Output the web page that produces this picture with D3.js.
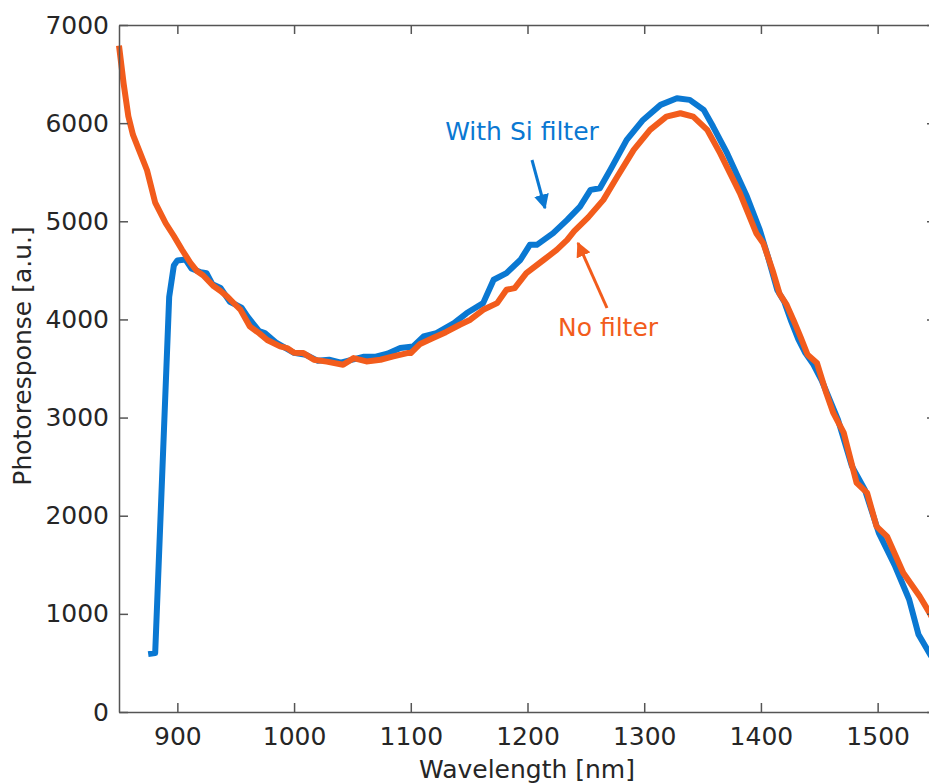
<!DOCTYPE html>
<html>
<head>
<meta charset="utf-8">
<script src="https://cdn.jsdelivr.net/npm/d3@7"></script>
<style>
  body { margin: 0; background: #fff; }
  svg { display: block; font-family: "DejaVu Sans", sans-serif; }
</style>
</head>
<body>
<svg id="chart"></svg>
<script>
// wavelength [nm], photoresponse [a.u.]
const noFilter = [
  [850, 6790], [854, 6400], [858, 6070], [862, 5880], [867, 5730], [874, 5520],
  [881, 5190], [890, 4980], [897, 4850], [904, 4710], [911, 4580], [917, 4490],
  [922, 4450], [931, 4340], [937, 4290], [943, 4230], [948, 4170], [954, 4100],
  [962, 3930], [970, 3860], [977, 3790], [988, 3725], [994, 3708], [1000, 3660],
  [1008, 3657], [1017, 3590], [1028, 3570], [1042, 3538], [1051, 3606], [1062, 3572],
  [1074, 3589], [1085, 3623], [1097, 3657], [1100, 3657], [1108, 3750], [1119, 3810],
  [1130, 3870], [1142, 3946], [1151, 3997], [1162, 4098], [1174, 4166], [1182, 4302],
  [1189, 4319], [1199, 4472], [1214, 4608], [1225, 4709], [1234, 4811], [1240, 4900],
  [1252, 5040], [1265, 5218], [1277, 5456], [1291, 5727], [1305, 5931], [1319, 6067],
  [1331, 6101], [1342, 6067], [1354, 5931], [1365, 5694], [1382, 5287], [1396, 4879],
  [1402, 4777], [1410, 4500], [1416, 4260], [1422, 4150], [1428, 3990], [1434, 3820],
  [1440, 3640], [1448, 3556], [1456, 3250], [1462, 3047], [1471, 2843], [1482, 2334],
  [1491, 2232], [1499, 1892], [1508, 1790], [1522, 1417], [1536, 1179], [1545, 1000],
  [1550, 880]
];

const siFilter = [
  [875, 590], [881, 600], [893, 4230], [897, 4550], [900, 4600], [907, 4610],
  [912, 4520], [920, 4480], [925, 4470], [930, 4360], [937, 4320], [945, 4180],
  [955, 4120], [960, 4030], [970, 3880], [975, 3860], [985, 3760], [1000, 3660],
  [1010, 3640], [1020, 3580], [1030, 3590], [1040, 3560], [1050, 3590], [1060, 3620],
  [1070, 3620], [1080, 3650], [1091, 3708], [1102, 3725], [1111, 3826], [1122, 3861],
  [1137, 3963], [1148, 4065], [1162, 4166], [1171, 4404], [1182, 4472], [1194, 4608],
  [1202, 4760], [1208, 4760], [1222, 4879], [1234, 5015], [1245, 5150], [1254, 5320],
  [1262, 5337], [1271, 5524], [1285, 5829], [1299, 6033], [1314, 6186], [1328, 6254],
  [1339, 6237], [1351, 6135], [1359, 5965], [1371, 5694], [1388, 5252], [1399, 4913],
  [1406, 4640], [1414, 4300], [1420, 4180], [1426, 3980], [1432, 3800], [1438, 3660],
  [1445, 3540], [1452, 3380], [1466, 2980], [1478, 2503], [1489, 2266], [1501, 1825],
  [1515, 1485], [1527, 1146], [1535, 790], [1545, 585], [1550, 500]
];

const xTicks = [900, 1000, 1100, 1200, 1300, 1400, 1500];
const yTicks = [0, 1000, 2000, 3000, 4000, 5000, 6000, 7000];

const width = 929, height = 783;
const margin = {top: 25, right: -7, bottom: 71, left: 119};
const axisColor = "#555";
const textColor = "#262626";
const blue = "#0a78d2";
const orange = "#f25c1c";

const svg = d3.select("#chart")
  .attr("width", width)
  .attr("height", height);

const x = d3.scaleLinear()
  .domain([850, 1550])
  .range([margin.left, width - margin.right]);

const y = d3.scaleLinear()
  .domain([0, 7000])
  .range([height - margin.bottom, margin.top]);

// lines first, axes on top
const line = d3.line()
  .x(d => x(d[0]))
  .y(d => y(d[1]));

svg.append("path")
  .datum(siFilter)
  .attr("fill", "none")
  .attr("stroke", blue)
  .attr("stroke-width", 6)
  .attr("stroke-linejoin", "round")
  .attr("d", line);

svg.append("path")
  .datum(noFilter)
  .attr("fill", "none")
  .attr("stroke", orange)
  .attr("stroke-width", 6)
  .attr("stroke-linejoin", "round")
  .attr("d", line);

// axes, matlab style box with inward ticks
const tickLen = 9;
const fmt = d3.format("d");
const bottomAxis = svg.append("g")
  .attr("transform", `translate(0, ${y(0)})`)
  .call(d3.axisBottom(x).tickValues(xTicks).tickFormat(fmt).tickSizeInner(-tickLen).tickSizeOuter(0).tickPadding(15));
const topAxis = svg.append("g")
  .attr("transform", `translate(0, ${y(7000)})`)
  .call(d3.axisTop(x).tickValues(xTicks).tickSizeInner(-tickLen).tickSizeOuter(0).tickFormat(""));
const leftAxis = svg.append("g")
  .attr("transform", `translate(${x(850)}, 0)`)
  .call(d3.axisLeft(y).tickValues(yTicks).tickFormat(fmt).tickSizeInner(-tickLen).tickSizeOuter(0).tickPadding(10));
const rightAxis = svg.append("g")
  .attr("transform", `translate(${x(1550)}, 0)`)
  .call(d3.axisRight(y).tickValues(yTicks).tickSizeInner(-tickLen).tickSizeOuter(0).tickFormat(""));

[bottomAxis, topAxis, leftAxis, rightAxis].forEach(g => {
  g.select(".domain").attr("stroke", axisColor).attr("stroke-width", 1.5);
  g.selectAll(".tick line").attr("stroke", axisColor).attr("stroke-width", 1.5);
  g.selectAll(".tick text")
    .attr("fill", textColor)
    .style("font-size", "25px")
    .style("font-family", "DejaVu Sans, sans-serif");
});

// axis titles
svg.append("text")
  .attr("x", 527)
  .attr("y", 778)
  .attr("text-anchor", "middle")
  .attr("fill", textColor)
  .style("font-size", "25px")
  .text("Wavelength [nm]");

svg.append("text")
  .attr("transform", "translate(31, 356) rotate(-90)")
  .attr("text-anchor", "middle")
  .attr("fill", textColor)
  .style("font-size", "25px")
  .text("Photoresponse [a.u.]");

// annotations with arrows
const defs = svg.append("defs");
[["head-blue", blue], ["head-orange", orange]].forEach(([id, c]) => {
  defs.append("marker")
    .attr("id", id)
    .attr("viewBox", "0 0 10 10")
    .attr("refX", 9).attr("refY", 5)
    .attr("markerWidth", 5).attr("markerHeight", 5)
    .attr("markerUnits", "strokeWidth")
    .attr("orient", "auto")
    .append("path")
    .attr("d", "M0,0 L10,5 L0,10 Z")
    .attr("fill", c);
});

svg.append("text")
  .attr("x", 522).attr("y", 140)
  .attr("text-anchor", "middle")
  .attr("fill", blue)
  .style("font-size", "25px")
  .text("With Si filter");
svg.append("line")
  .attr("x1", 532).attr("y1", 160)
  .attr("x2", 545).attr("y2", 208)
  .attr("stroke", blue).attr("stroke-width", 3)
  .attr("marker-end", "url(#head-blue)");

svg.append("text")
  .attr("x", 608).attr("y", 336)
  .attr("text-anchor", "middle")
  .attr("fill", orange)
  .style("font-size", "25px")
  .text("No filter");
svg.append("line")
  .attr("x1", 607).attr("y1", 308)
  .attr("x2", 578).attr("y2", 243)
  .attr("stroke", orange).attr("stroke-width", 3)
  .attr("marker-end", "url(#head-orange)");
</script>
</body>
</html>
